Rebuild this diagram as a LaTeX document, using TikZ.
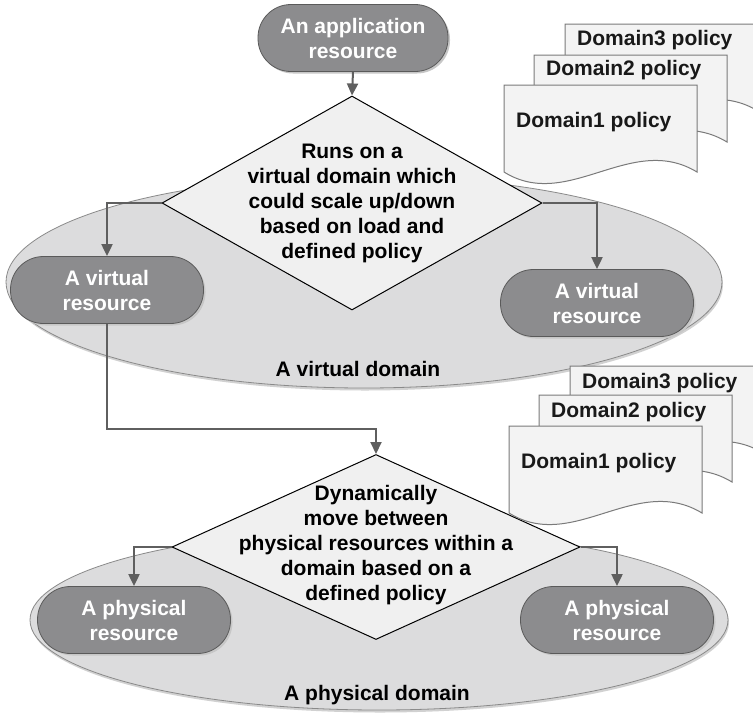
\documentclass[tikz,border=0pt]{standalone}
\usepackage{fontspec}
\setmainfont{Liberation Sans}
\usetikzlibrary{shapes.geometric,arrows.meta,shadows}
\definecolor{resfill}{HTML}{8C8C8E}
\definecolor{resdraw}{HTML}{5A5A5A}
\definecolor{domfill}{HTML}{DCDCDD}
\definecolor{domdraw}{HTML}{8A8A8A}
\definecolor{decfill}{HTML}{F0F0F0}
\definecolor{docfill}{HTML}{F3F3F3}
\definecolor{docdraw}{HTML}{7A7A7A}
\definecolor{linkcol}{HTML}{5F5F5F}
\tikzset{
  txt/.style={font=\fontsize{21}{25}\selectfont\bfseries, align=center, inner sep=0pt},
  resbox/.style={txt, text=white, fill=resfill, draw=resdraw, line width=0.8pt,
    rounded corners=33pt, minimum width=193pt, minimum height=67pt,
    drop shadow={shadow xshift=2pt, shadow yshift=-2pt, fill=black!22, opacity=1}},
  domshape/.style={ellipse, fill=domfill, draw=domdraw, line width=0.8pt, inner sep=0pt,
    drop shadow={shadow xshift=1pt, shadow yshift=-2.5pt, fill=black!18, opacity=1}},
  decshape/.style={diamond, fill=decfill, draw=black, line width=1pt, inner sep=0pt},
  link/.style={draw=linkcol, line width=2pt, -{Triangle[length=12pt,width=11pt]}},
  docshape/.style={fill=docfill, draw=docdraw, line width=1pt},
  doctxt/.style={txt, text=black!90, anchor=west},
  pics/poldoc/.style 2 args={code={
    \path[docshape] (0,0) -- (193,0) -- (193,87)
       .. controls (127,47) and (64,127) .. (0,87) -- cycle;
    \node[doctxt] (-label) at (12,#2) {#1};
  }}
}
\begin{document}
\begin{tikzpicture}[x=1pt,y=-1pt]
\useasboundingbox (0,0) rectangle (753,713);
\clip (0,0) rectangle (753,713);
\fill[white] (0,0) rectangle (753,713);

% domains
\node[domshape, minimum width=716pt, minimum height=212pt] (vdom) at (364,282) {};
\node[domshape, minimum width=698pt, minimum height=180pt] (pdom) at (379,620) {};
\node[txt] (vdomt) at (358,369) {A virtual domain};
\node[txt] (pdomt) at (377,695) {A physical domain};

% decisions
\node[decshape, minimum width=380pt, minimum height=214pt] (dec1) at (352,203) {};
\node[txt] (dec1t) at (352,203) {Runs on a\\virtual domain which\\could scale up/down\\based on load and\\defined policy};
\node[decshape, minimum width=408pt, minimum height=185pt] (dec2) at (376,547) {};
\node[txt] (dec2t) at (376,545) {Dynamically\\move between\\physical resources within a\\domain based on a\\defined policy};

% policy documents (upper group)
\pic (u3) at (565,24) {poldoc={Domain3 policy}{16}};
\pic (u2) at (534,55) {poldoc={Domain2 policy}{15}};
\pic (u1) at (504,85) {poldoc={Domain1 policy}{37}};
% policy documents (lower group)
\pic (l3) at (570,366) {poldoc={Domain3 policy}{17}};
\pic (l2) at (539,395) {poldoc={Domain2 policy}{17}};
\pic (l1) at (509,426) {poldoc={Domain1 policy}{37}};

% resources
\node[resbox, minimum width=190pt] (app) at (353,38) {An application\\resource};
\node[resbox] (vres1) at (107,290) {A virtual\\resource};
\node[resbox] (vres2) at (597,303) {A virtual\\resource};
\node[resbox] (pres1) at (134,620) {A physical\\resource};
\node[resbox] (pres2) at (617,620) {A physical\\resource};

% connectors
\draw[link] (app.south) -- (dec1.north);
\draw[link] (dec1.west) -| (vres1.north);
\draw[link] (dec1.east) -| (vres2.north);
\draw[link] (vres1.south) -- ++(0,105) -| (dec2.north);
\draw[link] (dec2.west) -| (pres1.north);
\draw[link] (dec2.east) -| (pres2.north);
\end{tikzpicture}
\end{document}
